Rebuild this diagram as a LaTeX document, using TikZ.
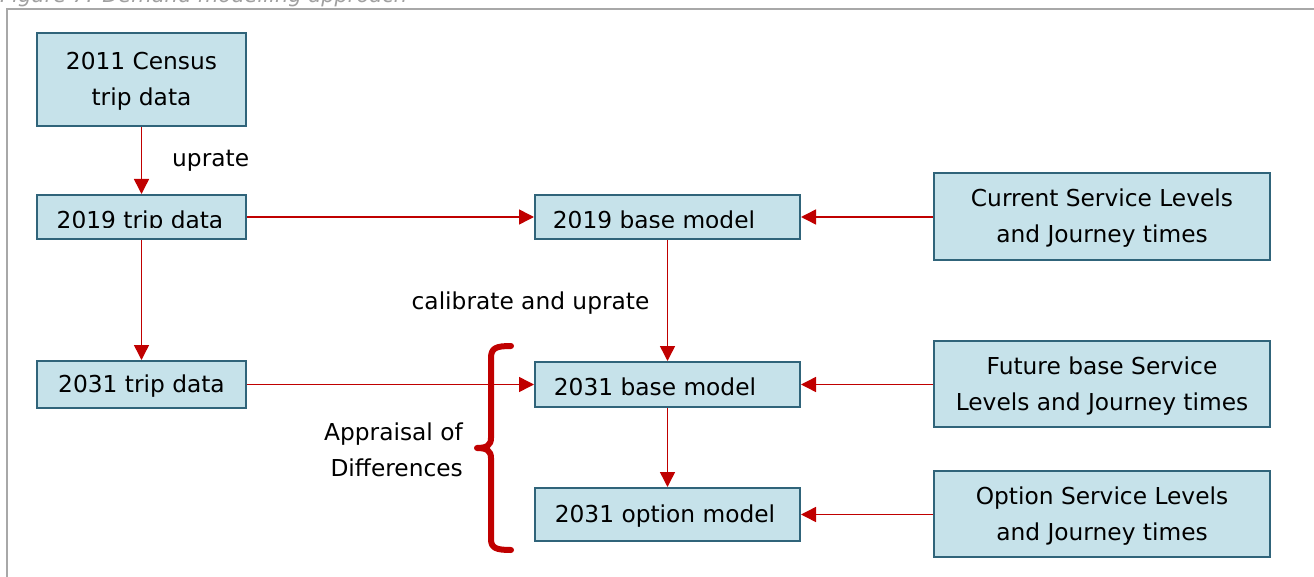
\documentclass[tikz,border=0pt]{standalone}
\usepackage{fontspec}
\setmainfont{DejaVu Sans}
\usetikzlibrary{arrows.meta}
\definecolor{boxfill}{RGB}{198,226,234}
\definecolor{boxline}{RGB}{48,100,122}
\definecolor{flowred}{RGB}{192,0,0}
\definecolor{framegray}{RGB}{168,168,168}
\definecolor{captiongray}{RGB}{160,160,160}
\tikzset{
  stagebox/.style={draw=boxline, fill=boxfill, line width=2pt, inner sep=0pt,
    align=center, font=\fontsize{23.3}{36}\selectfont},
  plaintext/.style={inner sep=0pt, font=\fontsize{23.3}{36}\selectfont},
  flow/.style={draw=flowred, line width=1.5pt, -{Triangle[length=15pt,width=15pt]}},
  brace/.style={draw=flowred, line width=6pt, line cap=round, line join=round},
}
\begin{document}
\begin{tikzpicture}[x=1pt,y=-1pt]
  \useasboundingbox (0,0) rectangle (1314,577);
  \clip (0,0) rectangle (1314,577);

  % caption and frame
  \node[inner sep=0pt, anchor=base west, text=captiongray,
        font=\fontsize{21}{25}\selectfont\itshape] (caption) at (0,3) {Figure 7: Demand modelling approach};
  \draw[framegray, line width=2pt] (7,580) -- (7,9) -- (1320,9);

  % left column: trip data
  \node[stagebox, minimum width=209pt, minimum height=93pt] (census) at (141.5,79.5) {};
  \node[plaintext, align=center] (censustxt) at (141.5,81.5) {2011 Census\\trip data};
  \node[stagebox, minimum width=209pt, minimum height=44pt] (trip19) at (141.5,217) {};
  \node[stagebox, minimum width=209pt, minimum height=47pt] (trip31) at (141.5,384.5) {};
  \node[plaintext] (trip31txt) at (141.5,386.5) {2031 trip data};

  % middle column: models
  \node[stagebox, minimum width=265pt, minimum height=44pt] (base19) at (667.5,217) {};
  \node[stagebox, minimum width=265pt, minimum height=45pt] (base31) at (667.5,384.5) {};
  \node[stagebox, minimum width=265pt, minimum height=53pt] (opt31) at (667.5,514.5) {};
  \node[plaintext] (base31txt) at (655,387) {2031 base model};
  \node[plaintext] (opt31txt) at (665,516) {2031 option model};

  % labels of the 2019 boxes, cut off at the text frame
  \begin{scope}
    \clip (30,190) rectangle (810,227.5);
    \node[plaintext, anchor=base] (trip19txt) at (140,229) {2019 trip data};
    \node[plaintext, anchor=base] (base19txt) at (654,229) {2019 base model};
  \end{scope}

  % right column: service levels
  \node[stagebox, minimum width=336pt, minimum height=87pt] (svc19) at (1102,216.5) {};
  \node[plaintext, align=center] (svc19txt) at (1102,218.5) {Current Service Levels\\and Journey times};
  \node[stagebox, minimum width=336pt, minimum height=86pt] (svc31) at (1102,384) {};
  \node[plaintext, align=center] (svc31txt) at (1102,386) {Future base Service\\Levels and Journey times};
  \node[stagebox, minimum width=336pt, minimum height=86pt] (svcopt) at (1102,514) {};
  \node[plaintext, align=center] (svcopttxt) at (1102,516) {Option Service Levels\\and Journey times};

  % connectors
  \draw[flow] (census.south) -- (trip19.north);
  \draw[flow] (trip19.south) -- (trip31.north);
  \draw[flow] (trip19.east) -- (base19.west);
  \draw[flow] (trip31.east) -- (base31.west);
  \draw[flow] (base19.south) -- (base31.north);
  \draw[flow] (base31.south) -- (opt31.north);
  \draw[flow] (svc19.west |- base19.east) -- (base19.east);
  \draw[flow] (svc31.west |- base31.east) -- (base31.east);
  \draw[flow] (svcopt.west |- opt31.east) -- (opt31.east);

  % connector labels
  \node[plaintext, anchor=base west] (uprate) at (172,167) {uprate};
  \node[plaintext, anchor=base] (calib) at (530.5,309) {calibrate and uprate};

  % brace grouping the 2031 models
  \draw[brace] (511,346) .. controls (496,346) and (491,348) .. (491,358)
    -- (491,438) .. controls (491,445) and (487,448) .. (477,448)
    .. controls (487,448) and (491,451) .. (491,458)
    -- (491,539) .. controls (491,548) and (496,550) .. (511,550);
  \node[plaintext, align=right, anchor=east] (appraisal) at (463,450) {Appraisal of\\Differences};
\end{tikzpicture}
\end{document}
